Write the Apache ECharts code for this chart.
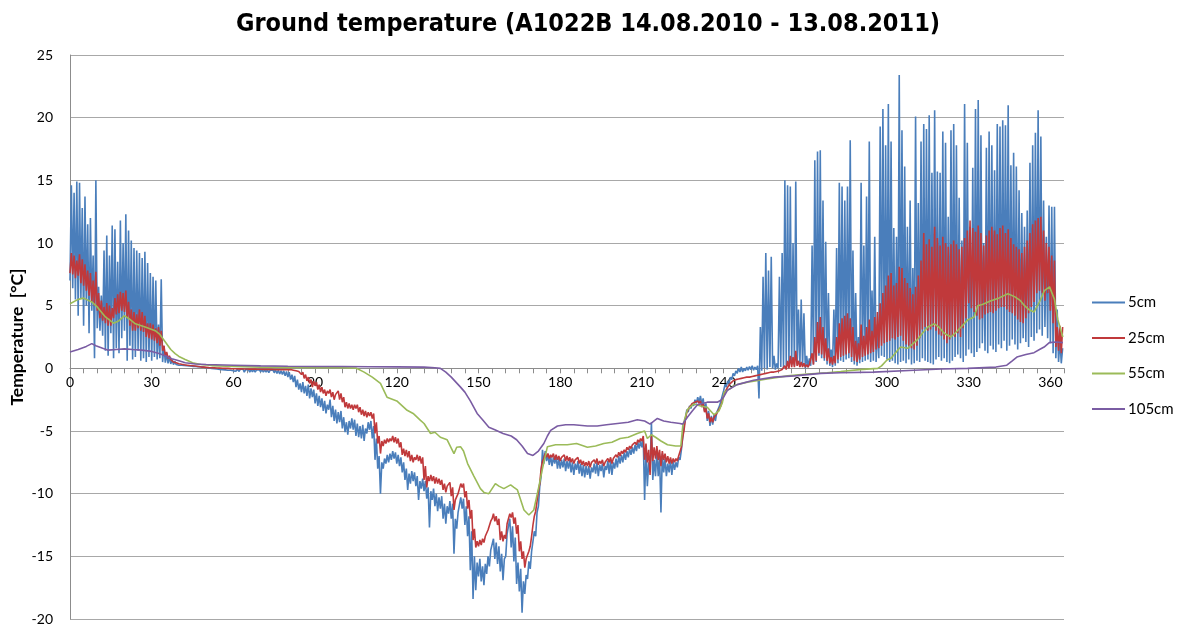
<!DOCTYPE html>
<html>
<head>
<meta charset="utf-8">
<script src="https://cdn.jsdelivr.net/npm/echarts@6/dist/echarts.min.js"></script>
<style>html,body{margin:0;padding:0;background:#fff;}#c{width:1187px;height:628px;}</style>
</head>
<body>
<div id="c"></div>
<script>
const titleText = 'Ground temperature (A1022B 14.08.2010 - 13.08.2011)';
const seriesNames = ['5cm', '25cm', '55cm', '105cm'];
const xTickStep = 5, xLabelStep = 30;

// 5 cm: daily low and daily high (days 0..364)
const t5Lo = [
  7.0,6.4,5.5,4.2,5.6,3.4,5.0,2.8,4.6,0.8,
  3.2,3.0,2.6,1.4,1.0,2.8,0.8,1.6,1.2,2.4,
  3.0,0.6,1.8,0.7,0.9,1.4,0.6,0.8,0.5,0.9,
  0.6,0.9,0.7,0.8,0.5,0.45,0.4,0.35,0.3,0.3,
  0.25,0.24,0.22,0.2,0.18,0.16,0.15,0.14,0.12,0.1,
  0.05,0.03,0,-0.02,-0.05,-0.08,-0.1,-0.12,-0.15,-0.15,
  -0.2,-0.22,-0.25,-0.2,-0.3,-0.25,-0.3,-0.28,-0.3,-0.25,
  -0.28,-0.3,-0.3,-0.35,-0.3,-0.35,-0.4,-0.45,-0.5,-0.6,
  -0.7,-0.9,-1.1,-1.5,-1.7,-1.9,-2.0,-2.2,-2.4,-2.3,
  -2.8,-3.0,-3.1,-3.4,-3.6,-3.3,-3.9,-4.2,-4.4,-4.3,
  -4.8,-5.1,-5.3,-4.8,-4.9,-5.4,-5.5,-5.6,-5.8,-5.2,
  -4.9,-5.6,-7.3,-8.0,-10.0,-8.0,-7.6,-7.5,-7.3,-7.2,
  -7.6,-7.8,-8.3,-8.9,-9.7,-9.2,-9.0,-9.4,-10.5,-9.6,
  -9.8,-10.4,-12.7,-10.5,-11.0,-11.4,-11.2,-12.0,-12.4,-11.6,
  -12.0,-14.8,-12.8,-11.4,-11.2,-12.5,-13.4,-16.1,-18.4,-17.7,
  -16.6,-17.0,-17.3,-16.4,-15.8,-14.6,-15.2,-15.6,-16.2,-16.9,
  -15.0,-13.2,-14.3,-15.4,-17.2,-17.8,-19.5,-18.0,-16.8,-16.0,
  -14.5,-13.4,-11.0,-8.6,-7.6,-7.4,-7.7,-7.8,-7.6,-8.0,
  -8.0,-7.9,-8.2,-8.0,-8.3,-8.5,-8.1,-8.4,-8.6,-8.7,
  -8.5,-8.8,-8.3,-8.4,-8.6,-8.2,-8.7,-8.1,-8.4,-8.5,
  -8.0,-7.9,-7.6,-7.5,-7.3,-7.1,-6.9,-6.8,-6.6,-6.4,
  -6.3,-10.5,-9.4,-8.1,-8.9,-8.6,-8.6,-11.5,-8.3,-8.6,
  -8.3,-8.5,-8.1,-7.9,-7.3,-5.5,-4.0,-3.5,-3.2,-3.0,
  -2.8,-2.7,-2.9,-3.4,-4.2,-4.6,-4.5,-4.2,-3.6,-2.9,
  -1.8,-1.5,-1.2,-0.9,-0.6,-0.4,-0.3,-0.3,-0.2,-0.15,
  -0.1,-0.15,-0.1,-2.4,-0.2,0,-0.1,0.1,0,-0.1,
  0,0.1,0,0.2,0.1,0.3,0.2,0.3,0.1,0.2,
  0,0.1,0.2,0.3,0.5,1.0,0.8,0.6,0.3,0.2,
  0.1,0.2,0.4,0.6,0.5,0.7,0.8,0.5,0.3,0.2,
  0.4,0.5,0.6,0.7,0.5,0.6,0.5,0.8,1.0,0.9,
  0.7,0.5,0.6,0.4,0.3,0.5,0.6,0.4,0.7,0.3,
  0.4,0.6,0.5,0.8,0.6,0.5,0.4,0.3,0.7,0.9,
  0.6,0.8,0.5,0.4,0.6,0.9,1.1,0.8,0.5,1.0,
  1.5,1.2,0.9,1.3,1.6,2.0,1.4,1.2,1.8,1.5,
  1.3,1.9,1.6,2.2,1.4,1.8,2.3,1.9,1.5,2.0,
  2.4,2.1,1.7,2.5,2.2,2.8,3.1,2.6,3.3,2.4,
  2.0,1.2,0.8,0.5,0.4
];
const t5Hi = [
  14.6,14.0,14.9,14.8,12.8,13.7,11.5,12.0,9.0,15.0,
  6.5,5.8,9.4,10.6,9.0,11.4,11.1,8.5,11.8,10.0,
  12.3,11.0,10.2,9.6,9.4,9.2,8.8,9.3,8.4,7.6,
  7.3,7.0,3.5,7.1,1.8,1.2,0.9,0.7,0.55,0.45,
  0.3,0.28,0.26,0.25,0.22,0.2,0.2,0.18,0.15,0.15,
  0.1,0.1,0.08,0.05,0.05,0.02,0,0,-0.02,-0.05,
  -0.05,-0.05,-0.08,-0.05,-0.1,-0.08,-0.1,-0.1,-0.12,-0.1,
  -0.1,-0.12,-0.1,-0.15,-0.12,-0.15,-0.15,-0.2,-0.2,-0.25,
  -0.3,-0.5,-0.6,-0.9,-1.2,-1.1,-1.4,-1.3,-1.6,-1.7,
  -2.0,-2.2,-2.4,-2.6,-2.9,-2.5,-3.0,-3.3,-3.5,-3.4,
  -3.9,-4.3,-4.2,-4.0,-4.1,-4.4,-4.6,-4.5,-4.8,-4.3,
  -4.2,-4.6,-5.6,-7.0,-7.5,-7.2,-6.9,-6.8,-6.6,-6.7,
  -6.9,-7.1,-7.5,-8.0,-8.4,-8.2,-8.3,-8.6,-9.0,-8.8,
  -9.0,-9.5,-9.8,-9.6,-10.0,-10.3,-10.2,-10.8,-11.0,-10.6,
  -10.8,-12.0,-11.5,-10.3,-10.4,-11.0,-11.8,-13.0,-15.0,-15.5,
  -15.2,-15.8,-15.6,-15.0,-14.5,-13.6,-13.9,-14.2,-14.8,-15.2,
  -13.2,-12.0,-12.6,-13.5,-15.5,-16.0,-17.0,-16.5,-15.4,-14.6,
  -13.0,-11.5,-9.4,-6.5,-6.6,-6.9,-7.0,-7.1,-7.0,-7.2,
  -7.3,-7.2,-7.4,-7.3,-7.5,-7.6,-7.4,-7.6,-7.7,-7.8,
  -7.8,-7.9,-7.6,-7.5,-7.7,-7.6,-7.8,-7.4,-7.3,-7.5,
  -7.2,-7.0,-6.9,-6.7,-6.6,-6.4,-6.3,-6.1,-5.9,-5.8,
  -5.6,-6.5,-7.5,-4.3,-7.3,-6.6,-7.0,-6.8,-7.2,-7.6,
  -7.3,-7.4,-7.5,-7.1,-6.5,-4.6,-3.3,-3.0,-2.8,-2.5,
  -2.3,-2.2,-2.4,-2.8,-3.4,-3.8,-3.7,-3.5,-3.0,-2.2,
  -1.3,-1.0,-0.7,-0.4,-0.2,0,0.1,0,0.1,0.15,
  0.2,0.1,0.2,3.3,7.3,9.2,7.8,8.9,1.0,0.4,
  7.3,9.2,15.0,14.6,14.5,10.0,14.9,4.7,5.5,4.4,
  1.0,0.8,9.8,16.6,17.3,17.4,13.4,10.1,6.0,1.5,
  4.7,9.6,14.8,14.5,13.4,14.5,18.2,9.4,6.0,2.5,
  14.8,9.8,13.7,18.1,6.2,10.5,3.5,19.3,20.7,17.8,
  21.1,18.1,11.2,10.5,23.4,19.0,16.1,11.3,13.4,8.0,
  20.1,13.2,18.1,19.5,19.1,20.2,15.6,20.6,15.7,15.6,
  18.9,18.0,12.1,19.0,19.5,17.8,13.6,10.2,21.1,18.0,
  11.3,16.0,20.7,21.4,18.6,10.0,17.6,18.9,17.8,15.8,
  19.5,19.3,19.8,19.4,21.0,16.2,17.2,16.1,14.2,12.4,
  11.3,12.6,16.4,17.8,18.8,20.6,18.5,13.4,10.5,13.0,
  12.9,12.9,4.7,2.3,1.6
];

// 25 cm: daily low and daily high (days 0..364)
const t25Lo = [
  7.6,7.5,7.2,7.4,6.8,6.6,6.2,5.8,5.3,5.0,
  4.6,4.0,3.8,3.6,3.4,3.4,4.0,4.3,4.4,4.6,
  4.5,4.0,3.4,3.0,3.0,3.2,3.0,2.9,2.5,2.4,
  2.3,2.2,2.0,1.8,1.4,1.0,0.8,0.7,0.5,0.45,
  0.37,0.32,0.28,0.25,0.22,0.2,0.18,0.15,0.12,0.1,
  0.08,0.06,0.05,0.04,0.03,0.02,0.01,0,0,-0.02,
  -0.03,-0.03,-0.04,-0.03,-0.05,-0.05,-0.06,-0.05,-0.06,-0.07,
  -0.07,-0.08,-0.07,-0.08,-0.08,-0.09,-0.1,-0.09,-0.1,-0.1,
  -0.1,-0.1,-0.15,-0.2,-0.25,-0.5,-0.8,-1.0,-1.2,-1.5,
  -1.4,-1.7,-1.9,-2.0,-2.2,-2.0,-2.3,-2.5,-2.2,-2.5,
  -2.7,-3.1,-3.2,-3.2,-3.3,-3.2,-3.5,-3.7,-3.8,-3.9,
  -3.8,-4.0,-5.2,-6.0,-6.8,-6.2,-6.0,-5.9,-5.8,-5.9,
  -6.0,-6.3,-6.9,-7.0,-7.1,-7.4,-7.5,-7.3,-7.4,-7.6,
  -8.9,-9.5,-9.0,-9.0,-9.2,-9.2,-9.3,-9.7,-9.9,-9.5,
  -10.2,-11.3,-10.5,-9.6,-9.5,-10.3,-11.2,-12.0,-13.7,-14.3,
  -14.2,-14.1,-13.9,-13.4,-12.8,-12.0,-12.2,-12.5,-13.7,-13.8,
  -13.6,-12.0,-11.9,-12.4,-13.2,-14.6,-15.2,-15.9,-15.1,-14.2,
  -12.5,-11.4,-9.8,-8.0,-7.2,-7.1,-7.2,-7.1,-7.3,-7.3,
  -7.4,-7.2,-7.4,-7.4,-7.5,-7.6,-7.4,-7.6,-7.7,-7.8,
  -7.8,-7.9,-7.6,-7.6,-7.7,-7.6,-7.8,-7.5,-7.5,-7.6,
  -7.3,-7.1,-7.0,-6.8,-6.7,-6.5,-6.4,-6.2,-6.1,-5.9,
  -5.8,-7.3,-7.5,-8.5,-7.4,-7.2,-7.3,-7.8,-7.3,-7.5,
  -7.6,-7.6,-7.5,-7.4,-7.0,-5.5,-4.0,-3.4,-3.1,-2.9,
  -2.8,-2.8,-3.1,-3.5,-4.0,-4.3,-4.3,-4.0,-3.5,-3.0,
  -2.2,-1.8,-1.5,-1.2,-1.1,-1.0,-0.95,-0.9,-0.85,-0.8,
  -0.75,-0.7,-0.7,-0.65,-0.6,-0.55,-0.5,-0.45,-0.4,-0.35,
  -0.3,-0.25,-0.2,-0.1,0,0.1,0.1,0.2,0.1,0.1,
  0.1,0.1,0.2,0.3,0.6,1.2,1.1,0.8,0.6,0.4,
  0.3,0.4,0.7,0.9,1.0,1.1,1.2,0.9,0.6,0.5,
  0.7,0.9,1.0,1.1,1.2,1.3,1.5,1.6,1.8,2.0,
  2.1,2.2,2.4,2.3,2.5,2.6,2.2,1.9,1.8,1.6,
  1.5,1.8,2.4,3.1,3.3,3.0,3.1,3.3,3.0,2.7,
  2.6,2.3,2.0,2.3,2.6,2.5,2.8,2.5,3.2,4.0,
  5.2,4.8,4.5,4.2,3.9,4.0,4.3,4.4,4.5,4.4,
  4.6,4.8,4.9,4.9,4.7,4.5,4.4,4.2,3.9,3.7,
  3.6,4.0,4.4,4.9,5.3,6.0,6.2,6.0,5.4,6.0,
  4.6,3.6,1.7,1.4,1.2
];
const t25Hi = [
  9.2,9.0,8.6,9.1,8.7,8.3,7.8,7.6,7.0,7.7,
  6.0,5.4,4.9,5.2,5.0,4.8,5.6,5.9,6.1,6.0,
  6.2,5.3,4.7,4.5,4.3,4.7,4.5,4.2,3.6,3.6,
  3.5,3.2,3.3,3.0,1.8,1.3,1.0,0.8,0.6,0.5,
  0.4,0.35,0.3,0.28,0.25,0.22,0.2,0.18,0.15,0.12,
  0.1,0.08,0.06,0.05,0.04,0.03,0.02,0.02,0.01,0,
  0,0,-0.01,0,-0.02,-0.02,-0.03,-0.02,-0.03,-0.04,
  -0.04,-0.05,-0.04,-0.05,-0.05,-0.05,-0.06,-0.05,-0.06,-0.05,
  -0.05,-0.05,-0.05,-0.1,-0.1,-0.3,-0.5,-0.7,-0.9,-1.0,
  -1.1,-1.3,-1.5,-1.7,-1.8,-1.7,-1.9,-2.1,-1.8,-2.0,
  -2.3,-2.7,-2.8,-2.9,-2.9,-2.9,-3.1,-3.3,-3.4,-3.5,
  -3.5,-3.6,-4.3,-5.4,-5.8,-5.7,-5.6,-5.6,-5.4,-5.5,
  -5.6,-5.9,-6.4,-6.5,-6.6,-6.9,-7.1,-6.9,-7.0,-7.1,
  -7.8,-8.6,-8.5,-8.6,-8.7,-8.8,-8.9,-9.2,-9.4,-9.1,
  -9.5,-10.5,-10.0,-9.2,-9.2,-9.8,-10.5,-11.3,-12.8,-13.8,
  -13.7,-13.6,-13.4,-12.9,-12.2,-11.6,-11.8,-12.0,-13.0,-13.3,
  -12.4,-11.6,-11.5,-11.9,-12.5,-13.8,-14.6,-15.2,-14.6,-13.4,
  -11.8,-10.6,-9.2,-7.4,-6.8,-6.8,-6.9,-6.8,-6.9,-7.0,
  -7.1,-6.9,-7.0,-7.1,-7.2,-7.3,-7.1,-7.3,-7.4,-7.5,
  -7.4,-7.5,-7.3,-7.2,-7.4,-7.3,-7.5,-7.2,-7.1,-7.2,
  -6.9,-6.7,-6.6,-6.5,-6.3,-6.2,-6.1,-5.9,-5.7,-5.6,
  -5.4,-6.0,-6.5,-5.3,-6.3,-6.2,-6.5,-6.6,-6.8,-7.0,
  -7.1,-7.2,-7.2,-7.0,-6.3,-4.9,-3.5,-3.1,-2.8,-2.7,
  -2.6,-2.6,-2.8,-3.2,-3.6,-3.9,-3.9,-3.6,-3.2,-2.6,
  -1.9,-1.5,-1.2,-1.0,-0.9,-0.85,-0.8,-0.75,-0.7,-0.7,
  -0.65,-0.6,-0.55,-0.5,-0.45,-0.4,-0.35,-0.3,-0.3,-0.25,
  -0.2,-0.1,0.2,0.6,1.0,0.9,1.4,0.6,0.5,0.4,
  0.3,0.3,1.2,2.5,3.7,4.1,3.3,2.4,1.6,0.9,
  1.0,2.5,3.6,4.0,4.2,4.4,4.0,3.3,2.2,2.0,
  3.5,2.6,3.3,3.9,3.0,4.1,4.5,5.2,6.0,6.6,
  7.4,7.6,6.6,6.8,8.1,8.0,7.2,6.8,6.4,5.9,
  6.5,7.4,8.6,10.8,9.9,10.3,9.7,11.3,10.4,9.8,
  10.5,10.0,9.7,9.9,10.2,9.9,9.5,9.7,10.4,11.0,
  11.8,11.2,10.9,11.4,10.8,9.8,10.6,11.0,11.3,11.0,
  10.7,11.2,11.4,10.8,11.1,10.4,9.9,9.7,9.5,9.2,
  9.7,10.2,10.8,11.5,11.8,12.0,12.1,11.0,10.0,9.7,
  9.0,8.6,3.3,3.4,3.3
];

// 55 cm: [day, value]
const t55 = [
  [0,5.15],[3,5.5],[5,5.6],[8,5.3],[10,4.9],[13,4.1],[16,3.6],[18,3.8],[20,4.2],[22,3.9],
  [24,3.55],[27.6,3.3],[31.3,3.0],[33,2.7],[35,2.1],[37,1.5],[38.6,1.17],[40,0.95],[42.3,0.7],[45,0.45],
  [48,0.3],[52,0.22],[60,0.15],[70,0.1],[80,0.08],[90,0.05],[100,0.05],[105,0.02],[108,-0.3],[111,-0.7],
  [114,-1.2],[116.4,-2.3],[120,-2.6],[123.8,-3.35],[126,-3.6],[128.7,-4.15],[130,-4.4],[132.4,-5.2],[134,-5.1],[136,-5.5],
  [138.5,-5.7],[141,-6.8],[142,-6.3],[143.4,-6.25],[144.5,-6.6],[146,-7.6],[148.3,-8.6],[150.7,-9.6],[152,-9.9],[153.8,-10.0],
  [155,-9.6],[156.2,-9.2],[157.5,-9.4],[159.3,-9.6],[161.8,-9.3],[163,-9.5],[164.3,-9.7],[165.5,-10.5],[166.7,-11.3],[168.5,-11.7],
  [170.3,-11.3],[172.2,-9.4],[173.4,-8.1],[175.3,-6.25],[178.3,-6.1],[182.6,-6.1],[186,-6.0],[190,-6.3],[193,-6.2],[196,-6.0],
  [199,-5.9],[202,-5.6],[205,-5.5],[208.3,-5.2],[211,-5.0],[212,-5.6],[213.5,-5.3],[215,-5.5],[217,-5.8],[219.4,-6.1],
  [222.4,-6.2],[224.3,-6.2],[225,-4.6],[226.7,-3.3],[229,-2.85],[231.6,-3.0],[234,-3.1],[236.5,-3.7],[238.3,-3.4],[239.6,-2.7],
  [240.2,-1.9],[242.6,-1.6],[244,-1.35],[248.8,-1.1],[256,-0.85],[263.5,-0.6],[270.8,-0.45],[278,-0.35],[283,-0.25],[290,-0.1],
  [296.6,0.0],[298,0.2],[300,0.66],[301.5,0.8],[304,1.46],[305,1.7],[307.6,1.6],[311,2.25],[313,2.8],[315,3.3],
  [317.4,3.55],[319,3.3],[321,2.8],[323.5,2.5],[325,2.8],[327.2,3.3],[329.6,3.85],[332,4.1],[333.3,5.0],[335,5.1],
  [338.2,5.4],[341,5.6],[344.4,5.95],[347,5.7],[349,5.4],[350.5,5.0],[352,4.7],[354,4.5],[356,5.3],[357.8,6.2],
  [359.7,6.5],[361.5,5.5],[362.7,3.9],[364.6,2.5]
];

// 105 cm: [day, value]
const t105 = [
  [0,1.3],[3,1.5],[6,1.75],[8,1.97],[9.5,1.8],[12,1.6],[14,1.45],[17,1.5],[20,1.55],[23,1.5],
  [26.3,1.45],[30,1.35],[32.4,1.2],[35,1.0],[37.4,0.77],[40,0.6],[42.3,0.45],[46,0.35],[50,0.3],[60,0.25],
  [70,0.2],[80,0.17],[90,0.15],[100,0.15],[110,0.13],[120,0.12],[130,0.1],[134,0.05],[136,0.0],[138,-0.3],
  [140,-0.7],[143.4,-1.5],[145,-1.9],[147,-2.6],[149.5,-3.6],[151.5,-4.1],[153.8,-4.7],[156,-4.9],[159,-5.2],[162,-5.4],
  [164,-5.7],[166,-6.2],[168,-6.8],[170,-6.95],[172,-6.6],[174,-6.0],[175.3,-5.4],[176.5,-4.95],[179,-4.6],[182,-4.5],
  [185,-4.5],[190,-4.6],[193.6,-4.6],[197,-4.5],[201,-4.4],[205,-4.3],[208.3,-4.1],[211,-4.2],[213,-4.45],[214.5,-4.2],
  [215.7,-4.0],[218,-4.2],[220.6,-4.3],[224,-4.4],[225,-4.45],[226.7,-3.9],[228.5,-3.4],[230.4,-2.9],[234,-2.7],[237.7,-2.7],
  [239,-2.55],[240,-2.3],[241.4,-1.75],[245,-1.3],[251,-0.95],[258.5,-0.7],[266,-0.6],[275.7,-0.4],[283,-0.35],[295,-0.3],
  [310,-0.15],[320,-0.05],[329.6,0.0],[340,0.1],[344,0.25],[346,0.6],[347.7,0.9],[351,1.1],[354,1.25],[356,1.5],
  [357.7,1.7],[359.6,2.05],[362,2.1],[364.6,2.05]
];

// interleave each day's low and high reading (low in the first half of the day, high in the second)
function dayPairs(lo, hi) {
  const out = [];
  for (let d = 0; d < lo.length; d++) {
    out.push([d, lo[d]]);
    out.push([d + 0.5, hi[d]]);
  }
  return out;
}

const colors = ['#4A7EBB', '#C0393B', '#9BBB59', '#7A5CA3'];
const chart = echarts.init(document.getElementById('c'), null, {renderer: 'canvas'});
const lineSeries = (name, data, color) => ({
  name, type: 'line', data, symbol: 'none', showSymbol: false,
  lineStyle: {color, width: 1.6}, itemStyle: {color},
  animation: false
});
chart.setOption({
  animation: false,
  backgroundColor: '#fff',
  title: {
    text: titleText, left: 231, top: 7,
    textStyle: {fontFamily: '"DejaVu Sans Condensed", sans-serif', fontWeight: 'bold', fontSize: 25, color: '#000'}
  },
  legend: {
    orient: 'vertical', left: 1087, top: 290, itemWidth: 33, itemHeight: 2, itemGap: 20.5,
    icon: 'rect',
    data: seriesNames,
    textStyle: {fontFamily: 'Lato, sans-serif', fontSize: 15, lineHeight: 14, color: '#000', padding: [0, 0, 0, -2]}
  },
  grid: {left: 70, right: 123, top: 55, bottom: 9, containLabel: false, outerBoundsMode: 'none'},
  xAxis: {
    type: 'value', min: 0, max: 365, interval: xTickStep, offset: -250.7,
    axisLine: {onZero: false, lineStyle: {color: '#8C8C8C', width: 1}},
    axisTick: {show: true, length: 5, lineStyle: {color: '#8C8C8C'}},
    axisLabel: {
      margin: 7, fontFamily: 'Lato, sans-serif', fontSize: 14, color: '#000',
      formatter: v => (v % xLabelStep === 0 ? String(v) : '')
    },
    splitLine: {show: false}
  },
  yAxis: {
    type: 'value', min: -20, max: 25, interval: 5,
    name: 'Temperature  [°C]', nameLocation: 'middle', nameGap: 44, nameMoveOverlap: false,
    nameTextStyle: {fontFamily: 'Lato, sans-serif', fontWeight: 'bold', fontSize: 17.5, color: '#000'},
    axisLine: {show: true, lineStyle: {color: '#8C8C8C', width: 1}},
    axisTick: {show: false},
    axisLabel: {margin: 17, fontFamily: 'Lato, sans-serif', fontSize: 14, color: '#000'},
    splitLine: {show: true, lineStyle: {color: '#A8A8A8', width: 1}}
  },
  series: [
    lineSeries(seriesNames[0], dayPairs(t5Lo, t5Hi), colors[0]),
    lineSeries(seriesNames[1], dayPairs(t25Lo, t25Hi), colors[1]),
    lineSeries(seriesNames[2], t55, colors[2]),
    lineSeries(seriesNames[3], t105, colors[3])
  ]
});
</script>
</body>
</html>
